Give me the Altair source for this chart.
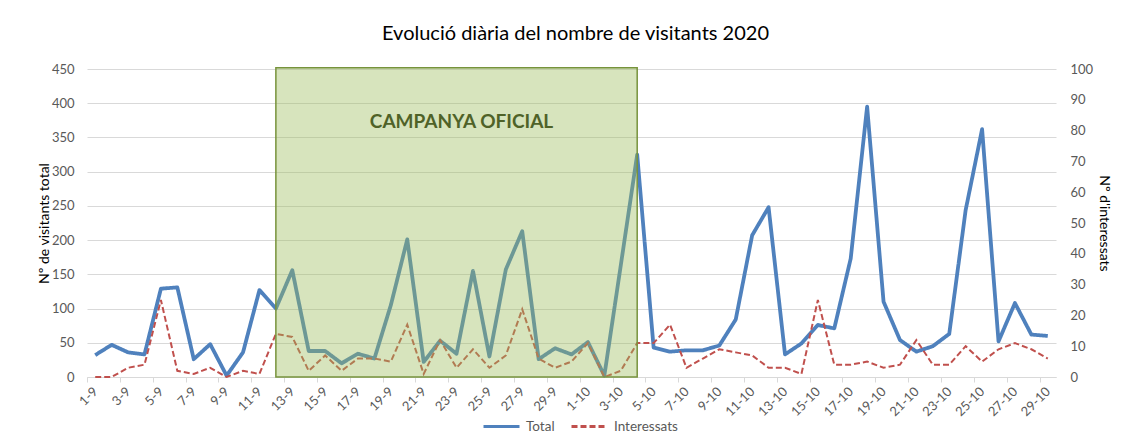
import altair as alt
import pandas as pd

# ---- data -------------------------------------------------------------
dates = [f"{d}-9" for d in range(1, 31)] + [f"{d}-10" for d in range(1, 30)]

total = [32, 47, 36, 33, 129, 131, 26, 48, 2, 36, 127, 100, 156, 38, 38, 20, 34, 27,
         105, 201, 22, 53, 34, 155, 30, 157, 213, 26, 42, 33, 51, 2, 163, 325, 43, 37,
         39, 39, 46, 84, 207, 248, 33, 49, 76, 71, 173, 395, 110, 54, 37, 45, 63, 244,
         362, 52, 108, 62, 60]

interessats = [0, 0, 3, 4, 25, 2, 1, 3, 0, 2, 1, 14, 13, 2, 7, 2, 6, 6, 5, 17, 1, 12,
               3, 9, 3, 7, 22, 6, 3, 5, 11, 0, 2, 11, 11, 17, 3, 6, 9, 8, 7, 3, 3, 1,
               25, 4, 4, 5, 3, 4, 12, 4, 4, 10, 5, 9, 11, 9, 6]

series_names = ["Total", "Interessats"]
campaign_start = "12-9"
campaign_end = "4-10"
campaign_top = 452
campaign_label = "CAMPANYA OFICIAL"
label_pos_date = "23-9"
label_pos_value = 372

left_ticks = list(range(0, 451, 50))
right_ticks = list(range(0, 101, 10))
x_label_dates = dates[::2]

# ---- frames -----------------------------------------------------------
df_total = pd.DataFrame({"date": dates, "value": total, "series": "Total"})
df_int = pd.DataFrame({"date": dates, "value": interessats, "series": "Interessats"})
df_rect = pd.DataFrame({"start": [campaign_start], "end": [campaign_end],
                        "low": [0], "top": [campaign_top]})
df_text = pd.DataFrame({"date": [label_pos_date], "v": [label_pos_value],
                        "label": [campaign_label]})

FONT = "Lato"
W, H = 969, 308
N = len(dates)
half = W / N / 2

x_scale = alt.Scale(type="point", domain=dates, padding=0.5)
x_axis = alt.Axis(
    values=x_label_dates, labelAngle=-45, labelAlign="right", labelBaseline="middle",
    tickOffset=-half, labelOffset=half, ticks=True, tickSize=5, tickColor="#D9D9D9",
    domainColor="#D9D9D9", grid=False, labelColor="#595959", labelFontSize=13,
    labelFont=FONT, labelPadding=7, title=None,
)

color_scale = alt.Scale(domain=series_names, range=["#4F81BD", "#C0504D"])
dash_scale = alt.Scale(domain=series_names, range=[[1, 0], [6, 3]])
legend = alt.Legend(
    title=None, orient="none", legendX=395, legendY=338, direction="horizontal",
    symbolType="stroke", symbolSize=1296, symbolStrokeWidth=3, labelFont=FONT,
    labelFontSize=13.5, labelColor="#595959", labelOffset=5, columnPadding=10,
)

left_scale = alt.Scale(domain=[0, 450], nice=False, zero=True)
right_scale = alt.Scale(domain=[0, 100], nice=False, zero=True)

total_line = alt.Chart(df_total).mark_line(strokeWidth=3.8, strokeJoin="round").encode(
    x=alt.X("date:N", scale=x_scale, axis=x_axis),
    y=alt.Y("value:Q", scale=left_scale, axis=alt.Axis(
        values=left_ticks, orient="left", grid=True, gridColor="#D9D9D9", domain=False,
        ticks=False, labelPadding=13, labelColor="#595959", labelFontSize=13,
        labelFont=FONT, title="Nº de visitants total", titleFont=FONT,
        titleFontSize=14, titleFontWeight="normal", titleColor="#000000",
        titleAngle=-90, titleX=-43, titleY=H / 2, titleAlign="center",
        titleBaseline="middle")),
    color=alt.Color("series:N", scale=color_scale, legend=legend),
    strokeDash=alt.StrokeDash("series:N", scale=dash_scale, legend=legend),
)

int_line = alt.Chart(df_int).mark_line(strokeWidth=2).encode(
    x=alt.X("date:N", scale=x_scale, axis=x_axis),
    y=alt.Y("value:Q", scale=right_scale, axis=alt.Axis(
        values=right_ticks, orient="right", grid=False, domain=False, ticks=False,
        labelPadding=14, labelColor="#595959", labelFontSize=13, labelFont=FONT,
        title="Nº d'interessats", titleFont=FONT, titleFontSize=14,
        titleFontWeight="normal", titleColor="#000000", titleAngle=90,
        titleX=47, titleY=H / 2, titleAlign="center", titleBaseline="middle")),
    color=alt.Color("series:N", scale=color_scale, legend=legend),
    strokeDash=alt.StrokeDash("series:N", scale=dash_scale, legend=legend),
)

rect = alt.Chart(df_rect).mark_rect(
    fill="#9BBB59", fillOpacity=0.4, stroke="#77933C", strokeWidth=1.5, strokeOpacity=1
).encode(
    x=alt.X("start:N", scale=x_scale, axis=x_axis),
    x2="end:N",
    y=alt.Y("low:Q", scale=left_scale, axis=None),
    y2="top:Q",
)

text = alt.Chart(df_text).mark_text(
    font=FONT, fontSize=19, fontWeight="bold", color="#4F6228", align="center",
    baseline="middle", dx=5,
).encode(
    x=alt.X("date:N", scale=x_scale, axis=x_axis),
    y=alt.Y("v:Q", scale=left_scale, axis=None),
    text="label:N",
)

chart = alt.layer(total_line, int_line, rect, text).resolve_scale(
    y="independent"
).properties(
    width=W, height=H,
    title=alt.TitleParams(
        "Evolució diària del nombre de visitants 2020", font=FONT, fontSize=20,
        fontWeight="normal", color="#000000", anchor="middle", baseline="alphabetic",
        offset=30, dx=4, dy=27,
    ),
    autosize=alt.AutoSizeParams(type="none"),
    padding={"left": 79, "top": 61, "right": 70, "bottom": 56},
).configure_view(stroke=None)

chart.save("out.html", embed_options={"renderer": "svg", "actions": False})
